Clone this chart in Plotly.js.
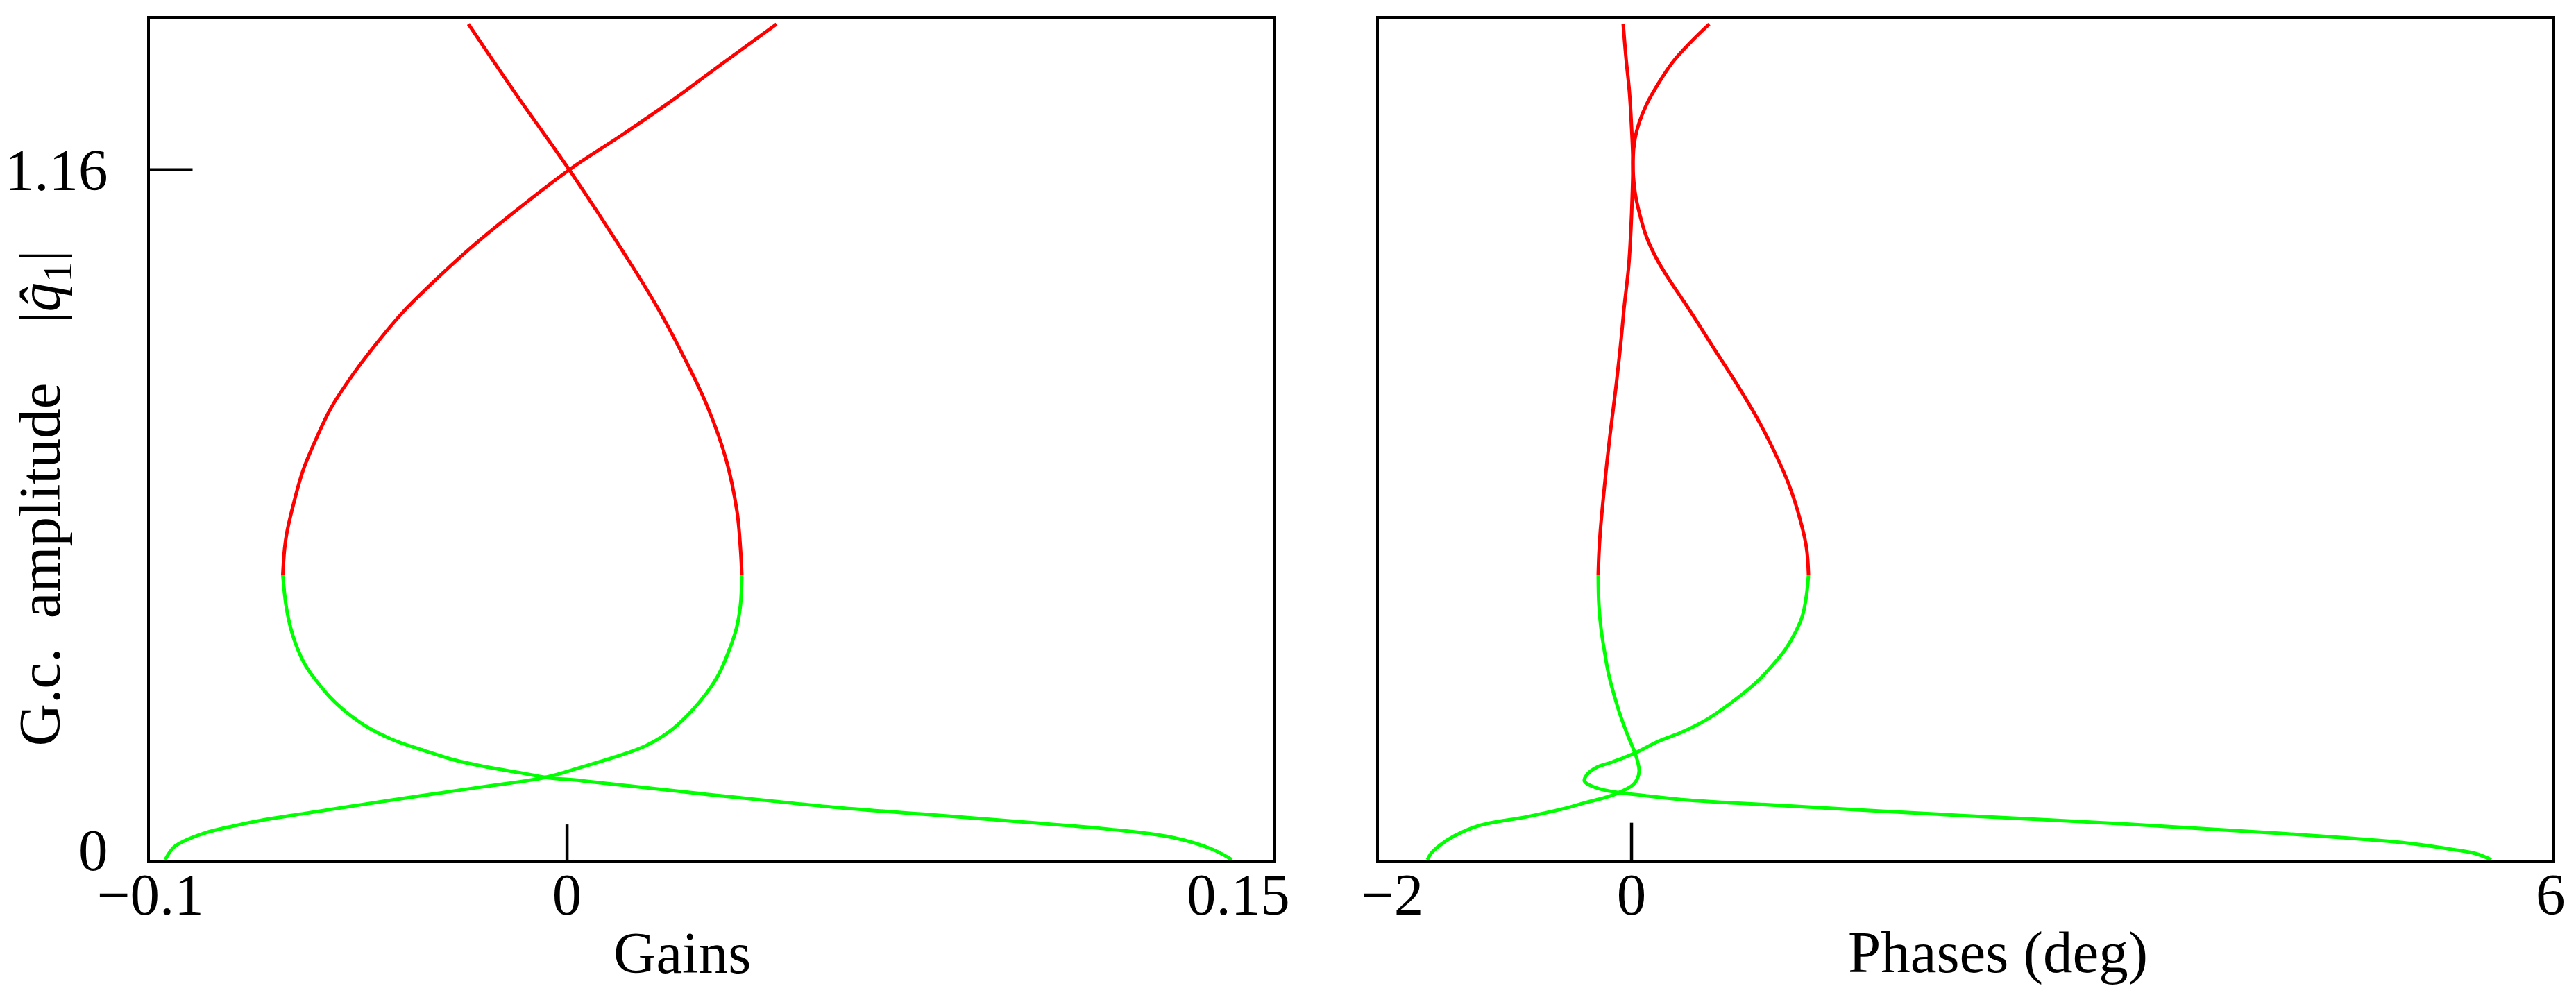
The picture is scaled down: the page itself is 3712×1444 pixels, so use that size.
<!DOCTYPE html>
<html>
<head>
<meta charset="utf-8">
<script src="https://cdn.plot.ly/plotly-3.0.1.min.js"></script>
<style>body{margin:0;background:#fff}</style>
</head>
<body>
<div id="chart" style="width:3712px;height:1444px"></div>
<script>
// left panel: gains of the two branches, red above the turning amplitude, green below
var ampGainRedA = [1.405, 1.2846, 1.16, 1.0168, 0.9306, 0.8444, 0.7594, 0.6732, 0.587, 0.5229, 0.479];
var gainRedA = [-0.0219, -0.0111, 0.0005, 0.0129, 0.0199, 0.026, 0.0313, 0.0353, 0.0377, 0.0385, 0.0388];
var ampGainGreenA = [0.479, 0.4286, 0.389, 0.3506, 0.3121, 0.2807, 0.2457, 0.2143, 0.191, 0.1724, 0.1561, 0.1386, 0.1235, 0.1083, 0.092, 0.078, 0.0676, 0.0559, 0.0443, 0.0326, 0.021, 0];
var gainGreenA = [0.0388, 0.0385, 0.0376, 0.0359, 0.0337, 0.031, 0.0271, 0.0225, 0.0173, 0.0105, 0.0034, -0.0048, -0.0179, -0.0319, -0.0461, -0.0581, -0.0669, -0.0746, -0.0807, -0.0847, -0.0873, -0.0892];

var ampGainRedB = [1.405, 1.3406, 1.2765, 1.2171, 1.16, 1.0855, 1.0273, 0.969, 0.9201, 0.8642, 0.813, 0.7594, 0.7058, 0.6546, 0.5986, 0.5497, 0.5229, 0.479];
var gainRedB = [0.0465, 0.0348, 0.0233, 0.0119, 0.0005, -0.0123, -0.0216, -0.03, -0.0365, -0.0427, -0.0478, -0.0524, -0.0558, -0.0586, -0.0607, -0.0622, -0.0627, -0.0631];
var ampGainGreenB = [0.479, 0.4286, 0.3972, 0.3622, 0.3273, 0.3005, 0.2725, 0.2481, 0.2248, 0.2027, 0.184, 0.1677, 0.1561, 0.1468, 0.1386, 0.1328, 0.1211, 0.1095, 0.1002, 0.0885, 0.0757, 0.0629, 0.0512, 0.0373, 0.0186, 0];
var gainGreenB = [-0.0631, -0.0624, -0.0616, -0.0602, -0.0581, -0.0556, -0.0525, -0.049, -0.0447, -0.039, -0.0319, -0.025, -0.0179, -0.0108, -0.0048, 0.0034, 0.0176, 0.0317, 0.0436, 0.059, 0.0806, 0.1021, 0.1206, 0.1345, 0.1429, 0.1476];

// right panel: phases (deg)
var ampPhaseRedA = [1.405, 1.3487, 1.2905, 1.2322, 1.174, 1.1158, 1.0575, 0.9993, 0.9248, 0.8747, 0.799, 0.714, 0.6278, 0.5521, 0.5136, 0.479];
var phaseRedA = [-0.0566, -0.0378, -0.0142, 0, 0.0094, 0.0047, -0.0047, -0.0189, -0.0519, -0.0708, -0.1038, -0.1463, -0.184, -0.2124, -0.2218, -0.2265];
var ampPhaseGreenA = [0.479, 0.4286, 0.389, 0.3506, 0.3121, 0.2725, 0.2423, 0.2108, 0.1794, 0.1642, 0.1491, 0.1351, 0.1258, 0.113, 0.106, 0.0955, 0.085, 0.0722, 0.0571, 0.0396, 0.0245, 0.0105, 0];
var phaseGreenA = [-0.2265, -0.2218, -0.2076, -0.184, -0.1557, -0.1133, -0.0755, -0.0283, 0.0236, 0.0425, 0.0519, 0.0378, 0.0094, -0.0849, -0.1605, -0.3209, -0.4766, -0.7126, -1.0429, -1.2081, -1.3025, -1.3638, -1.3874];

var ampPhaseRedB = [1.405, 1.3755, 1.3406, 1.3056, 1.2707, 1.2392, 1.2124, 1.174, 1.1228, 1.0843, 1.0459, 1.0109, 0.9795, 0.9446, 0.9236, 0.863, 0.8048, 0.7466, 0.6883, 0.6301, 0.5719, 0.5253, 0.479];
var phaseRedB = [0.5285, 0.4059, 0.2784, 0.184, 0.1038, 0.0519, 0.0236, 0.0094, 0.0236, 0.0566, 0.1038, 0.1699, 0.2454, 0.3398, 0.3964, 0.5521, 0.7032, 0.8447, 0.9674, 1.0713, 1.1468, 1.1892, 1.2034];
var ampPhaseGreenB = [0.479, 0.4437, 0.4088, 0.382, 0.3541, 0.3308, 0.3005, 0.2807, 0.2574, 0.2341, 0.2143, 0.1992, 0.1794, 0.1642, 0.1549, 0.1433, 0.1328, 0.1258, 0.1176, 0.113, 0.1083, 0.1002, 0.0955, 0.0745, 0.0606, 0.0443, 0.0349, 0.0291, 0.0233, 0.0175, 0.0105, 0];
var phaseGreenB = [1.2034, 1.1892, 1.1609, 1.1137, 1.0477, 0.9722, 0.8589, 0.7645, 0.6418, 0.5002, 0.3398, 0.184, 0.0236, -0.1321, -0.2407, -0.302, -0.3209, -0.2879, -0.1935, -0.0849, 0.0755, 0.387, 0.7032, 2.2416, 3.327, 4.4172, 4.9504, 5.2336, 5.4224, 5.5781, 5.7386, 5.8471];

var gainTicks = [-0.0925, 0, 0.149], gainTickText = ['\u22120.1', '0', '0.15'];
var phaseTicks = [-1.628, 0, 6.25], phaseTickText = ['\u22122', '0', '6'];
var ampTicks = [0.0175, 1.16], ampTickText = ['0', '1.16'];

var RED = '#ff0000', GREEN = '#00ff00';
var FONT = 'Liberation Serif, Times New Roman, serif';

function branch(x, y, color, xa, ya) {
    return {
        x: x, y: y, xaxis: xa, yaxis: ya,
        type: 'scatter', mode: 'lines',
        line: {color: color, width: 5, shape: 'spline', smoothing: 1.1},
        hoverinfo: 'skip'
    };
}

var data = [
    branch(gainRedA, ampGainRedA, RED, 'x', 'y'),
    branch(gainGreenA, ampGainGreenA, GREEN, 'x', 'y'),
    branch(gainRedB, ampGainRedB, RED, 'x', 'y'),
    branch(gainGreenB, ampGainGreenB, GREEN, 'x', 'y'),
    branch(phaseRedA, ampPhaseRedA, RED, 'x2', 'y2'),
    branch(phaseGreenA, ampPhaseGreenA, GREEN, 'x2', 'y2'),
    branch(phaseRedB, ampPhaseRedB, RED, 'x2', 'y2'),
    branch(phaseGreenB, ampPhaseGreenB, GREEN, 'x2', 'y2')
];

var frame = {
    showline: true, mirror: true, linewidth: 4.5, linecolor: '#000',
    showgrid: false, zeroline: false, ticks: '',
    tickfont: {family: FONT, size: 85, color: '#000'}
};

var layout = {
    width: 3712, height: 1444,
    margin: {l: 0, r: 0, t: 0, b: 0},
    paper_bgcolor: '#fff', plot_bgcolor: '#fff',
    showlegend: false,
    font: {family: FONT, size: 85, color: '#000'},
    xaxis: Object.assign({}, frame, {
        domain: [0.05819, 0.49434], range: [-0.0926, 0.1568], anchor: 'y',
        tickmode: 'array', tickvals: gainTicks, ticktext: gainTickText, ticklabelstandoff: -27
    }),
    yaxis: Object.assign({}, frame, {
        domain: [0.14197, 0.9813], range: [0, 1.414], anchor: 'x',
        tickmode: 'array', tickvals: ampTicks, ticktext: ampTickText, ticklabelstandoff: 39
    }),
    xaxis2: Object.assign({}, frame, {
        domain: [0.5353, 0.99084], range: [-1.7178, 6.2624], anchor: 'y2',
        tickmode: 'array', tickvals: phaseTicks, ticktext: phaseTickText, ticklabelstandoff: -27
    }),
    yaxis2: Object.assign({}, frame, {
        domain: [0.14197, 0.9813], range: [0, 1.414], anchor: 'x2',
        showticklabels: false
    }),
    shapes: [
        {type: 'line', xref: 'x', yref: 'y domain', x0: 0, x1: 0, y0: 0, y1: 0.042, line: {color: '#000', width: 4.5}},
        {type: 'line', xref: 'x domain', yref: 'y', x0: 0, x1: 0.038, y0: 1.16, y1: 1.16, line: {color: '#000', width: 4.5}},
        {type: 'line', xref: 'x2', yref: 'y2 domain', x0: 0, x1: 0, y0: 0, y1: 0.044, line: {color: '#000', width: 4.5}}
    ],
    annotations: [
        {text: 'Gains', xref: 'paper', yref: 'paper', x: 0.2648, y: 0.0495,
         xanchor: 'center', yanchor: 'middle', showarrow: false, font: {family: FONT, size: 85}},
        {text: 'Phases (deg)', xref: 'paper', yref: 'paper', x: 0.7755, y: 0.0495,
         xanchor: 'center', yanchor: 'middle', showarrow: false, font: {family: FONT, size: 85}},
        {text: 'G.c.\u00a0\u00a0amplitude\u00a0\u00a0\u00a0\u00a0|<i>q\u0302</i><sub>1</sub>|',
         xref: 'paper', yref: 'paper', x: 0.0171, y: 0.5028, textangle: -90,
         xanchor: 'center', yanchor: 'middle', showarrow: false, font: {family: FONT, size: 85}}
    ]
};

Plotly.newPlot('chart', data, layout, {staticPlot: true});
</script>
</body>
</html>
